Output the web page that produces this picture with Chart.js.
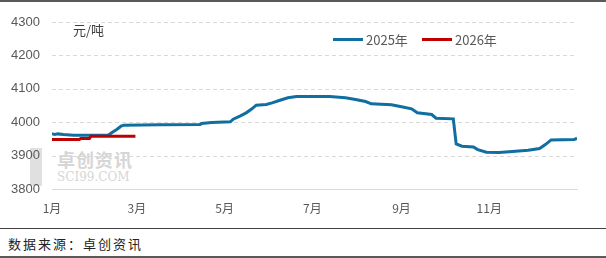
<!DOCTYPE html>
<html>
<head>
<meta charset="utf-8">
<script src="https://cdn.jsdelivr.net/npm/chart.js@4.4.1/dist/chart.umd.min.js"></script>
<style>
    body { margin: 0; background: #fff; }
    #wrap { position: relative; width: 606px; height: 258px; overflow: hidden; font-family: "Noto Sans CJK SC", sans-serif; }
    #topLine { position: absolute; left: 0; top: 0; width: 606px; height: 2px; background: #5a5a5a; }
    #chartBox { position: absolute; left: 0; top: 2px; width: 606px; height: 226px; z-index: 2; }
    #sepLine { position: absolute; left: 0; top: 228px; width: 606px; height: 1px; background: #404040; }
    #botLine { position: absolute; left: 0; top: 256px; width: 606px; height: 2px; background: #5a5a5a; }
    #source { position: absolute; left: 8px; top: 234px; font-size: 13px; color: #222; letter-spacing: 2px; }
    #unit { position: absolute; left: 73px; top: 20px; font-size: 13px; color: #404040; z-index: 3; }
    .legend { position: absolute; top: 30px; font-size: 13px; color: #595959; z-index: 3; display: flex; align-items: center; }
    .legend span.swatch { display: inline-block; width: 30px; height: 3px; margin-right: 3px; }
    #mark { position: absolute; left: 30px; top: 146px; z-index: 1; color: #d6d6d6; }
    #mark .cn { position: absolute; left: 27px; top: 0; font-size: 18px; font-weight: bold; white-space: nowrap; letter-spacing: 1px; }
    #mark .en { position: absolute; left: 27px; top: 24px; font-size: 12px; font-family: "DejaVu Serif", serif; white-space: nowrap; }
    #mark .ico { position: absolute; left: 0; top: 2px; width: 12px; height: 38px; background: #e0e0e0; }
</style>
</head>
<body>
<div id="wrap">
    <div id="topLine"></div>
    <div id="mark"><div class="ico"></div><div class="cn">卓创资讯</div><div class="en">SCI99.COM</div></div>
    <div id="chartBox"><canvas id="priceChart" width="606" height="226"></canvas></div>
    <div id="unit">元/吨</div>
    <div class="legend" style="left:333px;"><span class="swatch" style="background:#116ea0;"></span>2025年</div>
    <div class="legend" style="left:422px;"><span class="swatch" style="background:#c00000;"></span>2026年</div>
    <div id="sepLine"></div>
    <div id="source">数据来源：卓创资讯</div>
    <div id="botLine"></div>
</div>
<script>
// Month tick labels and their day-of-year positions
const monthLabels = ['1月', '3月', '5月', '7月', '9月', '11月'];
const monthDays = [0, 59, 120, 181, 243, 304];
const yTicks = [3800, 3900, 4000, 4100, 4200, 4300];

// 2025 series (day of year, price)
const days2025 = [0, 2, 4, 8, 15, 39, 42, 45, 48, 50, 75, 103, 104, 111, 124, 126, 131, 135, 139, 142,
    149, 153, 158, 164, 170, 193, 204, 211, 218, 222, 236, 243, 250, 254, 264, 267, 279, 281, 285, 293,
    296, 302, 311, 320, 331, 339, 343, 347, 363, 365];
const values2025 = [3966, 3963, 3965, 3963, 3961, 3961, 3970, 3978, 3988, 3991, 3992, 3993, 3996, 3999, 4001, 4009, 4019, 4028, 4040, 4051,
    4053, 4058, 4065, 4073, 4077, 4077, 4073, 4068, 4062, 4055, 4052, 4046, 4040, 4028, 4023, 4012, 4010, 3935, 3928, 3926,
    3918, 3910, 3909, 3912, 3916, 3921, 3933, 3947, 3948, 3952];

// 2026 series
const days2026 = [0, 19, 20, 26, 27, 58];
const values2026 = [3948, 3948, 3951, 3951, 3958, 3958];

const toPoints = (xs, ys) => xs.map((d, i) => ({ x: d, y: ys[i] }));

// Dashed horizontal grid lines
const dashedGrid = {
    id: 'dashedGrid',
    beforeDatasetsDraw(chart) {
        const { ctx, chartArea, scales } = chart;
        ctx.save();
        ctx.strokeStyle = '#d9d9d9';
        ctx.lineWidth = 1;
        ctx.setLineDash([4, 3]);
        yTicks.forEach(v => {
            if (v === 3800) return;
            const y = Math.round(scales.y.getPixelForValue(v)) + 0.5;
            ctx.beginPath();
            ctx.moveTo(chartArea.left, y);
            ctx.lineTo(chartArea.right, y);
            ctx.stroke();
        });
        ctx.restore();
    }
};

const ctx = document.getElementById('priceChart').getContext('2d');
const priceChart = new Chart(ctx, {
    type: 'line',
    data: {
        datasets: [{
            label: '2026年',
            data: toPoints(days2026, values2026),
            borderColor: '#c00000',
            borderWidth: 3,
            pointRadius: 0,
            tension: 0
        }, {
            label: '2025年',
            data: toPoints(days2025, values2025),
            borderColor: '#116ea0',
            borderWidth: 3,
            pointRadius: 0,
            tension: 0
        }]
    },
    options: {
        responsive: false,
        animation: false,
        layout: { padding: { top: 20, right: 29, left: 0, bottom: 0 } },
        scales: {
            x: {
                type: 'linear',
                min: 0,
                max: 365,
                afterBuildTicks: function(scale) {
                    scale.ticks = monthDays.map(v => ({ value: v }));
                },
                afterFit: function(scale) { scale.height = 39; },
                ticks: {
                    autoSkip: false,
                    maxRotation: 0,
                    padding: 12,
                    color: '#595959',
                    font: { size: 12, family: 'Noto Sans CJK SC' },
                    callback: function(value) {
                        const i = monthDays.indexOf(value);
                        return i >= 0 ? monthLabels[i] : '';
                    }
                },
                grid: { display: false, drawTicks: false },
                border: { display: true, color: '#d9d9d9', width: 1 }
            },
            y: {
                min: 3800,
                max: 4300,
                afterBuildTicks: function(scale) {
                    scale.ticks = yTicks.map(v => ({ value: v }));
                },
                afterFit: function(scale) { scale.width = 52; },
                ticks: {
                    padding: 12,
                    color: '#595959',
                    font: { size: 13, family: 'Liberation Sans' },
                    callback: function(value) { return String(value); }
                },
                grid: { display: false, drawTicks: false },
                border: { display: false }
            }
        },
        plugins: {
            legend: { display: false },
            tooltip: { enabled: false }
        }
    },
    plugins: [dashedGrid]
});
</script>
</body>
</html>
